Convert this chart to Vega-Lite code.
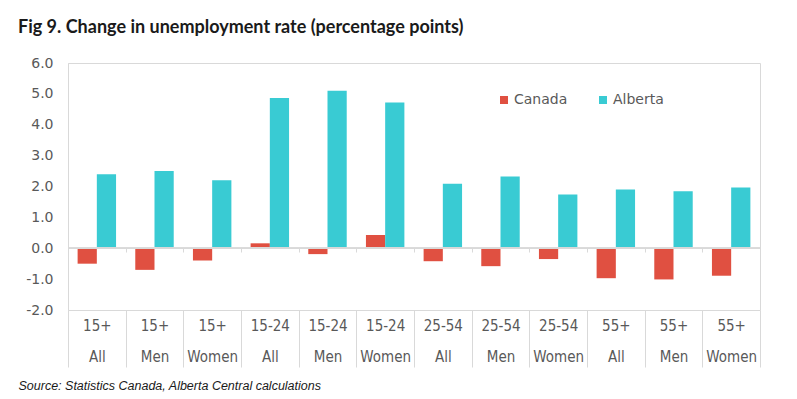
{
  "$schema": "https://vega.github.io/schema/vega-lite/v6.json",
  "width": 692,
  "height": 247,
  "autosize": {"type": "none"},
  "padding": {"left": 68, "top": 63, "right": 37, "bottom": 89},
  "background": "white",
  "title": {
    "text": "Fig 9. Change in unemployment rate (percentage points)",
    "anchor": "start",
    "frame": "group",
    "dx": -50,
    "offset": 5,
    "baseline": "alphabetic",
    "font": "Lato",
    "fontSize": 18,
    "fontWeight": "bold",
    "color": "#1a1a1a"
  },
  "data": {
    "values": [
      {"cat": "15+|All", "series": "Canada", "value": -0.5},
      {"cat": "15+|All", "series": "Alberta", "value": 2.4},
      {"cat": "15+|Men", "series": "Canada", "value": -0.7},
      {"cat": "15+|Men", "series": "Alberta", "value": 2.5},
      {"cat": "15+|Women", "series": "Canada", "value": -0.4},
      {"cat": "15+|Women", "series": "Alberta", "value": 2.2},
      {"cat": "15-24|All", "series": "Canada", "value": 0.16},
      {"cat": "15-24|All", "series": "Alberta", "value": 4.87},
      {"cat": "15-24|Men", "series": "Canada", "value": -0.19},
      {"cat": "15-24|Men", "series": "Alberta", "value": 5.1},
      {"cat": "15-24|Women", "series": "Canada", "value": 0.43},
      {"cat": "15-24|Women", "series": "Alberta", "value": 4.72},
      {"cat": "25-54|All", "series": "Canada", "value": -0.42},
      {"cat": "25-54|All", "series": "Alberta", "value": 2.09},
      {"cat": "25-54|Men", "series": "Canada", "value": -0.58},
      {"cat": "25-54|Men", "series": "Alberta", "value": 2.32},
      {"cat": "25-54|Women", "series": "Canada", "value": -0.35},
      {"cat": "25-54|Women", "series": "Alberta", "value": 1.74},
      {"cat": "55+|All", "series": "Canada", "value": -0.97},
      {"cat": "55+|All", "series": "Alberta", "value": 1.9},
      {"cat": "55+|Men", "series": "Canada", "value": -1.01},
      {"cat": "55+|Men", "series": "Alberta", "value": 1.85},
      {"cat": "55+|Women", "series": "Canada", "value": -0.89},
      {"cat": "55+|Women", "series": "Alberta", "value": 1.97}
    ]
  },
  "config": {
    "view": {"stroke": "#d9d9d9", "strokeWidth": 1},
    "axis": {"grid": false},
    "axisY": {
      "labelOverlap": false,
      "domain": true,
      "domainColor": "#d9d9d9",
      "ticks": false,
      "labelFont": "DejaVu Sans",
      "labelFontSize": 14,
      "labelColor": "#595959",
      "labelPadding": 15
    }
  },
  "resolve": {"axis": {"x": "independent"}},
  "layer": [
    {
      "mark": {"type": "bar"},
      "encoding": {
        "x": {
          "field": "cat",
          "type": "nominal",
          "sort": null,
          "scale": {"paddingInner": 0, "paddingOuter": 0},
          "axis": {
            "orient": "bottom",
            "domain": false,
            "ticks": true,
            "tickBand": "extent",
            "tickSize": 57,
            "tickColor": "#d9d9d9",
            "labelAngle": 0,
            "labelExpr": "split(datum.label, '|')",
            "labelFont": "Liberation Sans Narrow, DejaVu Sans Condensed, sans-serif",
            "labelFontSize": 15,
            "labelColor": "#595959",
            "labelLineHeight": 31,
            "labelPadding": -49,
            "labelBaseline": "top",
            "title": "Source: Statistics Canada, Alberta Central calculations",
            "titleAnchor": "start",
            "titleAlign": "left",
            "titleX": -50,
            "titleY": 79,
            "titleBaseline": "alphabetic",
            "titleFont": "Liberation Sans",
            "titleFontStyle": "italic",
            "titleFontWeight": "normal",
            "titleFontSize": 12.5,
            "titleColor": "#1a1a1a"
          }
        },
        "xOffset": {
          "field": "series",
          "type": "nominal",
          "sort": ["Canada", "Alberta"],
          "scale": {"paddingInner": 0, "paddingOuter": 0.5}
        },
        "y": {
          "field": "value",
          "type": "quantitative",
          "scale": {"domain": [-2, 6], "nice": false},
          "axis": {"tickCount": 20, "values": [-2, -1, 0, 1, 2, 3, 4, 5, 6], "labelExpr": "replace(format(datum.value, '.1f'), '\u2212', '-')", "labelOverlap": false, "title": null}
        },
        "color": {
          "field": "series",
          "type": "nominal",
          "sort": ["Canada", "Alberta"],
          "scale": {"domain": ["Canada", "Alberta"], "range": ["#E05041", "#39CBD3"]},
          "legend": {
            "orient": "none",
            "legendX": 429,
            "legendY": 30,
            "direction": "horizontal",
            "title": null,
            "symbolType": "square",
            "symbolSize": 64,
            "symbolStrokeWidth": 0,
            "labelFont": "DejaVu Sans",
            "labelFontSize": 14,
            "labelColor": "#595959",
            "labelOffset": 3,
            "columnPadding": 28
          }
        }
      }
    },
    {
      "mark": {"type": "rule", "color": "#d9d9d9", "strokeWidth": 1},
      "encoding": {
        "y": {"datum": 0, "type": "quantitative"}
      }
    },
    {
      "mark": {"type": "tick", "opacity": 0},
      "encoding": {
        "x": {
          "field": "cat",
          "type": "nominal",
          "sort": null,
          "axis": {
            "orient": "top",
            "offset": -185,
            "domain": false,
            "labels": false,
            "ticks": true,
            "tickBand": "extent",
            "tickSize": -4,
            "tickColor": "#d9d9d9",
            "title": null
          }
        },
        "y": {"datum": 0, "type": "quantitative"}
      }
    }
  ]
}
